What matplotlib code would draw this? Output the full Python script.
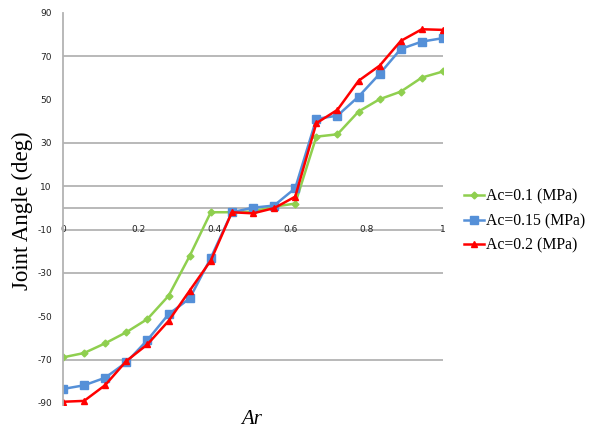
"""Joint angle vs Ar for three Ac pressures."""

import matplotlib
matplotlib.use("Agg")
import matplotlib.pyplot as plt
import numpy as np

# data (19 evenly spaced Ar samples)
ar = np.arange(19) / 18
angle_01 = [-69, -67, -62.5, -57.4, -51.3, -40.6, -22.2, -2, -2, -1.7,
            0.6, 2, 32.9, 34, 44.5, 50.2, 53.7, 60.2, 63]
angle_015 = [-83.6, -81.9, -78.4, -71.3, -61, -49.1, -41.8, -23.1, -2, 0.1,
             1.1, 9.1, 41.1, 42.6, 51.4, 61.9, 73.4, 76.8, 78.4]
angle_02 = [-89.5, -89.1, -81.8, -70.7, -63, -52.2, -38.2, -24.3, -2, -2.5,
            -0.1, 5.2, 39.1, 45.3, 58.7, 65.7, 77.1, 82.5, 82.2]

labels = ["Ac=0.1 (MPa)", "Ac=0.15 (MPa)", "Ac=0.2 (MPa)"]
y_ticks = [90, 70, 50, 30, 10, -10, -30, -50, -70, -90]
x_ticks = [0, 0.2, 0.4, 0.6, 0.8, 1]
x_tick_labels = ["0", "0.2", "0.4", "0.6", "0.8", "1"]
grid_levels = [70, 30, 10, 0, -10, -30, -70]

W, H = 589, 437
fig = plt.figure(figsize=(W / 100, H / 100), dpi=100)
ax = fig.add_axes([63 / W, 1 - 405 / H, (443 - 63) / W, (405 - 13) / H])

# visible horizontal gridlines
for g in grid_levels:
    ax.axhline(g, color="#b3b3b3", linewidth=1.3, zorder=0)

ax.plot(ar, angle_01, marker="D", markersize=3.5, color="#8fcf4f",
        linewidth=1.8, label=labels[0])
ax.plot(ar, angle_015, marker="s", markersize=5.5, color="#5590d8",
        linewidth=1.8, label=labels[1])
ax.plot(ar, angle_02, marker="^", markersize=5, color="#ff0000",
        linewidth=1.8, label=labels[2])

ax.set_xlim(0, 1)
ax.set_ylim(-91, 90)

ax.set_yticks(y_ticks)
ax.set_yticklabels([str(v) for v in y_ticks], fontsize=6.5, color="#222222")
ax.tick_params(axis="y", length=0, pad=8)

# x tick labels hang just below the zero line
ax.spines["bottom"].set_position(("data", 0))
ax.spines["bottom"].set_visible(False)
ax.set_xticks(x_ticks)
ax.set_xticklabels(x_tick_labels, fontsize=6.5, color="#222222")
ax.tick_params(axis="x", length=0, pad=12)

ax.spines["top"].set_visible(False)
ax.spines["right"].set_visible(False)
ax.spines["left"].set_color("#b3b3b3")
ax.spines["left"].set_linewidth(1.3)

fig.text(22 / W, 1 - 211 / H, "Joint Angle (deg)", rotation=90,
         ha="center", va="center", fontsize=16.5, family="Liberation Serif")
fig.text(252 / W, 1 - 420 / H, "Ar", ha="center", va="center",
         fontsize=15, style="italic", family="Liberation Serif")

fig.legend(loc="center left", bbox_to_anchor=(456 / W, 1 - 221 / H),
           frameon=False, handlelength=1.3, handletextpad=0.1,
           labelspacing=0.55, borderpad=0,
           prop={"family": "Liberation Serif", "size": 11.3})

fig.savefig("out.png", dpi=100)
